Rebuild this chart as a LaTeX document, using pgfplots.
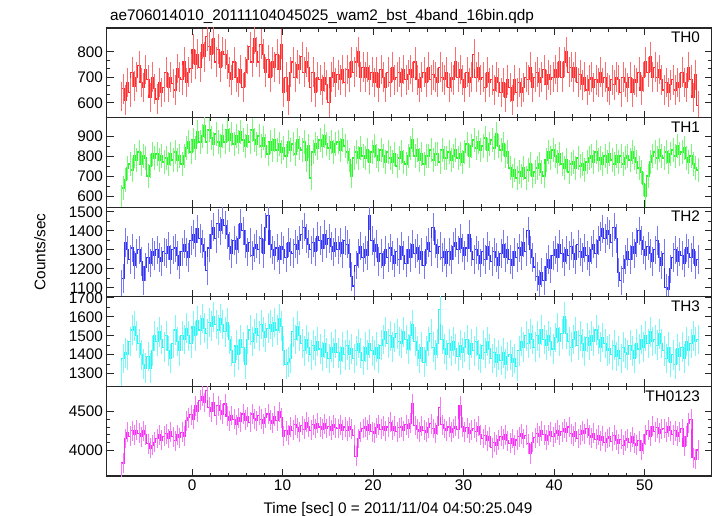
\documentclass[border=0pt]{standalone}
\usepackage{fontspec}
\setmainfont{Liberation Sans}
\usepackage{pgfplots}
\usepackage{pgfplotstable}
\pgfplotsset{compat=1.18}
\definecolor{cA}{RGB}{255,45,45}
\definecolor{cB}{RGB}{45,245,45}
\definecolor{cC}{RGB}{50,50,245}
\definecolor{cD}{RGB}{45,245,245}
\definecolor{cE}{RGB}{245,45,245}
\definecolor{lA}{RGB}{255,110,110}
\definecolor{lB}{RGB}{120,250,120}
\definecolor{lC}{RGB}{120,120,250}
\definecolor{lD}{RGB}{120,250,250}
\definecolor{lE}{RGB}{250,120,250}
\newcommand{\lf}{\fontsize{15.4}{18}\selectfont}

\pgfplotstableread[row sep=\\]{y\\
625\\655\\610\\680\\640\\720\\665\\700\\745\\680\\660\\730\\690\\620\\700\\655\\
615\\680\\640\\660\\720\\660\\700\\675\\650\\735\\700\\690\\760\\680\\720\\735\\
810\\750\\790\\740\\830\\780\\860\\820\\790\\850\\760\\810\\740\\800\\790\\750\\
720\\690\\760\\700\\680\\730\\660\\720\\770\\820\\760\\850\\800\\760\\830\\790\\
720\\770\\700\\760\\740\\790\\730\\830\\640\\700\\610\\720\\760\\700\\750\\730\\
780\\720\\760\\740\\660\\720\\640\\700\\690\\650\\700\\670\\600\\700\\720\\680\\
710\\690\\730\\680\\730\\700\\760\\720\\760\\800\\700\\740\\700\\740\\690\\720\\
680\\720\\660\\730\\700\\660\\720\\680\\740\\690\\700\\720\\680\\730\\690\\710\\
730\\700\\760\\690\\660\\700\\720\\680\\740\\690\\710\\700\\680\\740\\700\\690\\
720\\660\\700\\690\\760\\700\\730\\690\\660\\720\\680\\700\\790\\700\\740\\690\\
700\\660\\720\\680\\690\\650\\700\\680\\640\\680\\620\\690\\660\\610\\690\\640\\
680\\640\\660\\700\\690\\740\\660\\700\\720\\680\\700\\730\\670\\710\\690\\700\\
730\\700\\760\\700\\760\\800\\720\\740\\700\\740\\680\\710\\670\\700\\650\\690\\
700\\660\\690\\680\\720\\680\\700\\660\\650\\690\\670\\700\\690\\640\\700\\680\\
660\\700\\640\\690\\680\\720\\650\\700\\760\\720\\780\\700\\740\\700\\730\\690\\
650\\680\\640\\670\\690\\650\\680\\660\\720\\680\\660\\740\\690\\620\\710\\590\\
}\tA

\pgfplotstableread[row sep=\\]{y\\
595\\640\\680\\740\\760\\730\\800\\780\\820\\760\\800\\790\\700\\750\\810\\790\\
810\\780\\800\\770\\790\\760\\810\\780\\820\\780\\800\\760\\800\\840\\870\\820\\
880\\840\\920\\870\\900\\950\\870\\930\\890\\860\\910\\870\\850\\900\\870\\930\\
880\\910\\860\\900\\870\\920\\880\\850\\900\\870\\930\\880\\860\\900\\850\\890\\
850\\810\\870\\830\\880\\830\\860\\820\\840\\800\\870\\830\\860\\810\\880\\840\\
830\\870\\780\\850\\690\\820\\860\\840\\880\\850\\900\\860\\840\\870\\820\\860\\
870\\830\\880\\850\\820\\780\\700\\790\\820\\790\\840\\800\\790\\830\\770\\820\\
850\\800\\780\\830\\800\\770\\820\\790\\770\\810\\750\\790\\820\\770\\760\\800\\
840\\880\\800\\830\\780\\810\\760\\800\\800\\830\\780\\810\\810\\770\\830\\790\\
790\\820\\780\\800\\830\\790\\810\\770\\820\\860\\800\\850\\880\\840\\870\\830\\
850\\890\\830\\860\\880\\840\\910\\850\\830\\860\\800\\820\\740\\700\\730\\690\\
720\\700\\740\\690\\730\\760\\700\\720\\740\\760\\720\\700\\780\\820\\790\\830\\
800\\770\\810\\760\\740\\780\\720\\760\\770\\740\\790\\750\\760\\730\\770\\790\\
800\\770\\820\\780\\790\\760\\800\\770\\810\\780\\760\\800\\770\\800\\760\\790\\
800\\780\\820\\790\\770\\740\\720\\660\\600\\700\\770\\800\\820\\790\\830\\800\\
790\\820\\770\\810\\830\\800\\850\\810\\820\\840\\790\\770\\800\\760\\740\\730\\
}\tB

\pgfplotstableread[row sep=\\]{y\\
1120\\1150\\1340\\1300\\1250\\1310\\1220\\1280\\1300\\1240\\1140\\1210\\1260\\1230\\1290\\1270\\
1300\\1260\\1240\\1290\\1280\\1320\\1250\\1300\\1310\\1270\\1220\\1290\\1330\\1290\\1260\\1350\\
1380\\1340\\1410\\1360\\1330\\1290\\1190\\1310\\1380\\1420\\1360\\1440\\1400\\1460\\1430\\1380\\
1320\\1280\\1350\\1300\\1360\\1440\\1400\\1330\\1290\\1340\\1270\\1310\\1330\\1300\\1360\\1280\\
1420\\1480\\1330\\1300\\1270\\1310\\1250\\1320\\1300\\1260\\1340\\1290\\1280\\1330\\1300\\1350\\
1380\\1420\\1360\\1330\\1300\\1340\\1290\\1370\\1350\\1310\\1380\\1330\\1360\\1320\\1290\\1340\\
1300\\1340\\1280\\1350\\1330\\1280\\1160\\1110\\1220\\1280\\1320\\1260\\1300\\1270\\1480\\1350\\
1290\\1330\\1240\\1280\\1220\\1300\\1260\\1310\\1270\\1230\\1290\\1250\\1320\\1270\\1230\\1300\\
1260\\1330\\1280\\1310\\1250\\1290\\1220\\1300\\1340\\1290\\1420\\1330\\1280\\1320\\1260\\1290\\
1230\\1290\\1250\\1320\\1340\\1300\\1360\\1310\\1270\\1310\\1380\\1290\\1250\\1300\\1270\\1230\\
1290\\1250\\1320\\1270\\1240\\1290\\1260\\1220\\1280\\1330\\1260\\1300\\1250\\1220\\1290\\1260\\
1310\\1270\\1340\\1290\\1400\\1300\\1260\\1210\\1160\\1120\\1180\\1140\\1210\\1250\\1200\\1270\\
1300\\1260\\1330\\1280\\1240\\1300\\1270\\1320\\1280\\1250\\1330\\1290\\1260\\1310\\1270\\1240\\
1300\\1330\\1280\\1350\\1370\\1410\\1360\\1400\\1380\\1340\\1420\\1360\\1180\\1140\\1200\\1250\\
1290\\1250\\1320\\1280\\1340\\1400\\1350\\1300\\1270\\1320\\1280\\1240\\1300\\1350\\1260\\1220\\
1280\\1100\\1090\\1200\\1260\\1300\\1240\\1290\\1270\\1230\\1310\\1280\\1260\\1300\\1220\\1250\\
}\tC

\pgfplotstableread[row sep=\\]{y\\
1290\\1380\\1410\\1400\\1470\\1530\\1550\\1500\\1460\\1400\\1350\\1330\\1390\\1330\\1420\\1500\\
1470\\1520\\1480\\1440\\1500\\1420\\1380\\1460\\1530\\1470\\1420\\1500\\1480\\1540\\1500\\1460\\
1550\\1500\\1580\\1530\\1590\\1540\\1510\\1570\\1550\\1600\\1560\\1530\\1590\\1560\\1520\\1570\\
1480\\1420\\1360\\1450\\1400\\1480\\1440\\1350\\1480\\1530\\1470\\1510\\1540\\1500\\1560\\1520\\
1490\\1540\\1560\\1520\\1570\\1530\\1590\\1550\\1420\\1350\\1360\\1380\\1520\\1480\\1550\\1500\\
1460\\1420\\1480\\1440\\1400\\1450\\1420\\1470\\1430\\1390\\1460\\1410\\1380\\1440\\1410\\1460\\
1410\\1370\\1440\\1400\\1450\\1400\\1430\\1380\\1420\\1460\\1410\\1370\\1440\\1400\\1460\\1420\\
1400\\1440\\1380\\1450\\1480\\1520\\1460\\1500\\1440\\1490\\1510\\1470\\1460\\1520\\1480\\1430\\
1500\\1560\\1470\\1420\\1380\\1440\\1360\\1420\\1470\\1510\\1440\\1400\\1460\\1640\\1480\\1430\\
1400\\1460\\1420\\1470\\1430\\1390\\1450\\1410\\1440\\1480\\1400\\1460\\1420\\1470\\1400\\1380\\
1450\\1410\\1470\\1430\\1380\\1410\\1360\\1400\\1370\\1410\\1350\\1390\\1400\\1360\\1380\\1340\\
1420\\1470\\1440\\1500\\1460\\1510\\1480\\1440\\1500\\1460\\1530\\1480\\1450\\1500\\1470\\1430\\
1490\\1540\\1470\\1510\\1600\\1510\\1470\\1440\\1480\\1520\\1450\\1500\\1460\\1420\\1490\\1450\\
1500\\1470\\1530\\1480\\1440\\1490\\1460\\1420\\1430\\1400\\1450\\1390\\1420\\1380\\1440\\1410\\
1400\\1450\\1420\\1380\\1460\\1430\\1480\\1440\\1500\\1460\\1520\\1470\\1480\\1450\\1510\\1460\\
1420\\1380\\1440\\1360\\1400\\1350\\1430\\1390\\1440\\1380\\1470\\1420\\1460\\1500\\1470\\1480\\
}\tD

\pgfplotstableread[row sep=\\]{y\\
3700\\3830\\4150\\4230\\4180\\4250\\4200\\4260\\4220\\4170\\4250\\4200\\4080\\4020\\4060\\4100\\
4150\\4200\\4130\\4180\\4210\\4150\\4240\\4170\\4120\\4200\\4160\\4230\\4180\\4380\\4420\\4460\\
4400\\4580\\4500\\4650\\4700\\4620\\4780\\4560\\4500\\4620\\4450\\4580\\4520\\4470\\4600\\4440\\
4380\\4450\\4400\\4330\\4420\\4370\\4470\\4390\\4430\\4360\\4470\\4410\\4380\\4450\\4400\\4340\\
4420\\4470\\4390\\4350\\4440\\4380\\4500\\4420\\4180\\4250\\4200\\4300\\4260\\4330\\4290\\4240\\
4320\\4270\\4360\\4300\\4260\\4330\\4280\\4350\\4300\\4270\\4340\\4280\\4310\\4260\\4330\\4290\\
4280\\4330\\4260\\4300\\4250\\4300\\4270\\4190\\3920\\4150\\4240\\4280\\4300\\4260\\4330\\4240\\
4220\\4290\\4330\\4270\\4310\\4250\\4300\\4360\\4260\\4310\\4240\\4290\\4300\\4250\\4330\\4280\\
4350\\4600\\4320\\4270\\4240\\4310\\4260\\4230\\4290\\4340\\4280\\4220\\4320\\4560\\4330\\4280\\
4250\\4300\\4230\\4280\\4310\\4270\\4580\\4300\\4240\\4290\\4220\\4260\\4280\\4240\\4310\\4200\\
4150\\4190\\4120\\4170\\4030\\4100\\4060\\4130\\4180\\4140\\4200\\4120\\4090\\4150\\4060\\4130\\
4170\\4210\\4150\\4190\\4080\\3950\\4100\\4160\\4220\\4180\\4250\\4200\\4130\\4190\\4240\\4170\\
4220\\4260\\4190\\4240\\4280\\4230\\4300\\4210\\4180\\4240\\4150\\4200\\4250\\4210\\4280\\4190\\
4160\\4220\\4140\\4190\\4120\\4180\\4100\\4150\\4170\\4110\\4190\\4130\\4080\\4140\\4060\\4120\\
4150\\4100\\4170\\4090\\4060\\4120\\4000\\4080\\4200\\4260\\4180\\4310\\4240\\4290\\4220\\4270\\
4280\\4230\\4300\\4250\\4200\\4250\\4180\\4230\\4280\\4050\\4180\\4350\\4400\\3900\\3880\\4000\\
}\tE

\pgfplotsset{
  panel/.style={
    scale only axis, width=605bp, height=89.6bp,
    xmin=-9.45, xmax=57.4,
    xtick={0,10,20,30,40,50}, minor x tick num=4,
    tick align=inside,
    major tick length=7bp, minor tick length=3.5bp,
    axis line style={line width=1.1bp, black!85},
    every tick/.append style={line width=0.9bp, black!85},
    xticklabels={},
    anchor=north west,
    tick label style={font=\lf},
    /pgf/number format/assume math mode=true,
    /pgf/number format/1000 sep={},
    scaled y ticks=false,
  },
  ser/.style n args={3}{color=#1, line width=1.1bp, const plot mark mid,
    error bars/.cd, y dir=both, y fixed=#3, error mark=none,
    error bar style={#2}},
}

\begin{document}
\begin{tikzpicture}
\path[use as bounding box] (0,0) rectangle (717bp,-516bp);

\begin{axis}[panel, at={(106.5bp,-28bp)}, ymin=542, ymax=893,
  ytick={600,700,800}, minor y tick num=2]
\addplot[ser={cA}{lA}{58}] table[x expr=\coordindex*0.25-7.875, y=y]{\tA};
\end{axis}

\begin{axis}[panel, at={(106.5bp,-117.6bp)}, ymin=544, ymax=992,
  ytick={600,700,800,900}, minor y tick num=1]
\addplot[ser={cB}{lB}{60}] table[x expr=\coordindex*0.25-7.875, y=y]{\tB};
\end{axis}

\begin{axis}[panel, at={(106.5bp,-207.2bp)}, ymin=1053, ymax=1525,
  ytick={1100,1200,1300,1400,1500}, minor y tick num=1]
\addplot[ser={cC}{lC}{75}] table[x expr=\coordindex*0.25-7.875, y=y]{\tC};
\end{axis}

\begin{axis}[panel, at={(106.5bp,-296.8bp)}, ymin=1233, ymax=1705,
  ytick={1300,1400,1500,1600,1700}, minor y tick num=1]
\addplot[ser={cD}{lD}{78}] table[x expr=\coordindex*0.25-7.875, y=y]{\tD};
\end{axis}

\begin{axis}[panel, at={(106.5bp,-386.4bp)}, ymin=3660, ymax=4830,
  ytick={4000,4500}, minor y tick num=4,
  xticklabels={0,10,20,30,40,50}]
\addplot[ser={cE}{lE}{130}] table[x expr=\coordindex*0.25-7.875, y=y]{\tE};
\end{axis}

\node[anchor=base east, font=\lf] at (703.5bp,-42.7bp) {TH0};
\node[anchor=base east, font=\lf] at (703.5bp,-132.3bp) {TH1};
\node[anchor=base east, font=\lf] at (703.5bp,-221.9bp) {TH2};
\node[anchor=base east, font=\lf] at (703.5bp,-311.5bp) {TH3};
\node[anchor=base east, font=\lf] at (703.5bp,-401.1bp) {TH0123};

\node[anchor=base west, font=\lf] at (106.5bp,-20.7bp) {ae706014010\_20111104045025\_wam2\_bst\_4band\_16bin.qdp};
\node[anchor=base, font=\lf] at (398bp,-513bp) {Time [sec] 0 = 2011/11/04 04:50:25.049};
\node[rotate=90, anchor=center, font=\lf] at (40bp,-252bp) {Counts/sec};
\end{tikzpicture}
\end{document}
